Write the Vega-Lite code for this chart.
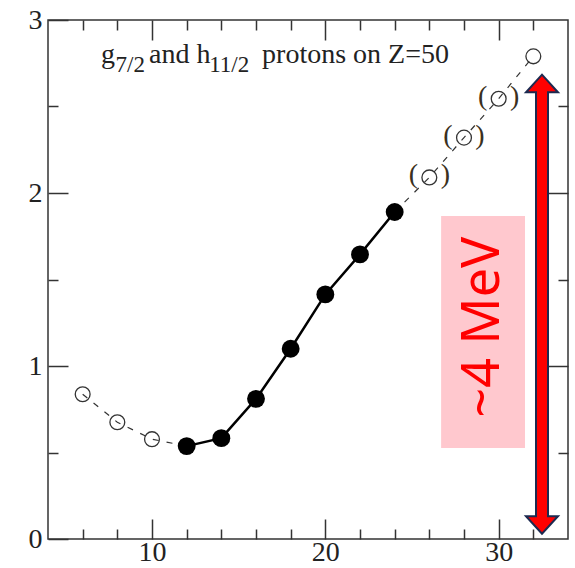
{
  "$schema": "https://vega.github.io/schema/vega-lite/v6.json",
  "width": 520,
  "height": 519,
  "autosize": {"type": "none"},
  "padding": {"left": 48, "top": 20, "right": 7, "bottom": 29},
  "background": "white",
  "config": {
    "view": {"stroke": "#333", "strokeWidth": 1.5},
    "axis": {"grid": false, "domain": false, "tickColor": "#333", "tickWidth": 1.5, "labelFont": "Liberation Serif", "labelFontSize": 28, "labelColor": "#222"}
  },
  "datasets": {
    "points": [
      {"n": 6, "e": 0.837, "kind": "open"},
      {"n": 8, "e": 0.675, "kind": "open"},
      {"n": 10, "e": 0.577, "kind": "open"},
      {"n": 12, "e": 0.537, "kind": "filled"},
      {"n": 14, "e": 0.583, "kind": "filled"},
      {"n": 16, "e": 0.81, "kind": "filled"},
      {"n": 18, "e": 1.1, "kind": "filled"},
      {"n": 20, "e": 1.414, "kind": "filled"},
      {"n": 22, "e": 1.645, "kind": "filled"},
      {"n": 24, "e": 1.89, "kind": "filled"},
      {"n": 26, "e": 2.09, "kind": "paren"},
      {"n": 28, "e": 2.32, "kind": "paren"},
      {"n": 30, "e": 2.545, "kind": "paren"},
      {"n": 32, "e": 2.79, "kind": "open"}
    ],
    "lines": [
      {"n": 6, "e": 0.837, "seg": "left"},
      {"n": 8, "e": 0.675, "seg": "left"},
      {"n": 10, "e": 0.577, "seg": "left"},
      {"n": 12, "e": 0.537, "seg": "left"},
      {"n": 12, "e": 0.537, "seg": "solid"},
      {"n": 14, "e": 0.583, "seg": "solid"},
      {"n": 16, "e": 0.81, "seg": "solid"},
      {"n": 18, "e": 1.1, "seg": "solid"},
      {"n": 20, "e": 1.414, "seg": "solid"},
      {"n": 22, "e": 1.645, "seg": "solid"},
      {"n": 24, "e": 1.89, "seg": "solid"},
      {"n": 24, "e": 1.89, "seg": "right"},
      {"n": 26, "e": 2.09, "seg": "right"},
      {"n": 28, "e": 2.32, "seg": "right"},
      {"n": 30, "e": 2.545, "seg": "right"},
      {"n": 32, "e": 2.79, "seg": "right"}
    ],
    "title": [
      {"n": 7.06, "e": 2.751, "t": "g", "size": "main"},
      {"n": 7.9, "e": 2.699, "t": "7/2", "size": "sub"},
      {"n": 9.83, "e": 2.751, "t": "and h", "size": "main"},
      {"n": 13.3, "e": 2.699, "t": "11/2", "size": "sub"},
      {"n": 16.35, "e": 2.751, "t": "protons on Z=50", "size": "main"}
    ],
    "box": [{"x0": 26.68, "x1": 31.52, "y0": 1.867, "y1": 0.526, "label": "~4 MeV", "lx": 29.1, "ly": 1.225}],
    "arrow": [{"n": 32.5, "lo": 0.12, "hi": 2.59, "rlo": 0.105, "rhi": 2.605}],
    "heads": [
      {"n": 32.5, "e": 0.081, "dir": "down"},
      {"n": 32.5, "e": 2.633, "dir": "up"}
    ]
  },
  "resolve": {"axis": {"x": "independent", "y": "independent"}},
  "layer": [
    {
      "data": {"name": "box"},
      "mark": {"type": "rect", "color": "#ffc8ce"},
      "encoding": {
        "x": {"field": "x0", "type": "quantitative", "scale": {"domain": [4, 34], "nice": false, "zero": false},
          "axis": {"orient": "bottom", "title": null, "values": [6, 8, 10, 12, 14, 16, 18, 20, 22, 24, 26, 28, 30, 32],
            "labelExpr": "datum.value % 10 === 0 ? format(datum.value, 'd') : ''",
            "tickSize": {"condition": {"test": "datum.value % 10 === 0", "value": -20}, "value": -10},
            "labelPadding": 19}},
        "x2": {"field": "x1"},
        "y": {"field": "y0", "type": "quantitative", "scale": {"domain": [0, 3], "nice": false},
          "axis": {"orient": "left", "title": null, "values": [0, 0.5, 1, 1.5, 2, 2.5, 3],
            "labelExpr": "datum.value % 1 === 0 ? format(datum.value, 'd') : ''",
            "tickSize": {"condition": {"test": "datum.value % 1 === 0", "value": -20}, "value": -10},
            "labelPadding": 26}},
        "y2": {"field": "y1"}
      }
    },
    {
      "data": {"name": "lines"},
      "transform": [{"filter": "datum.seg !== 'solid'"}],
      "mark": {"type": "line", "color": "#333", "strokeWidth": 1.2, "strokeDash": [6, 8]},
      "encoding": {
        "x": {"field": "n", "type": "quantitative",
          "axis": {"orient": "top", "title": null, "labels": false, "values": [6, 8, 10, 12, 14, 16, 18, 20, 22, 24, 26, 28, 30, 32],
            "tickSize": {"condition": {"test": "datum.value % 10 === 0", "value": -20}, "value": -10}}},
        "y": {"field": "e", "type": "quantitative",
          "axis": {"orient": "right", "title": null, "labels": false, "values": [0.5, 1, 1.5, 2, 2.5],
            "tickSize": {"condition": {"test": "datum.value % 1 === 0", "value": -20}, "value": -10}}},
        "detail": {"field": "seg"}
      }
    },
    {
      "data": {"name": "lines"},
      "transform": [{"filter": "datum.seg === 'solid'"}],
      "mark": {"type": "line", "color": "#000", "strokeWidth": 2.5},
      "encoding": {
        "x": {"field": "n", "type": "quantitative", "axis": null},
        "y": {"field": "e", "type": "quantitative", "axis": null}
      }
    },
    {
      "data": {"name": "points"},
      "transform": [{"filter": "datum.kind !== 'filled'"}],
      "mark": {"type": "point", "shape": "circle", "filled": false, "stroke": "#333", "strokeWidth": 1.3, "size": 220, "opacity": 1},
      "encoding": {
        "x": {"field": "n", "type": "quantitative", "axis": null},
        "y": {"field": "e", "type": "quantitative", "axis": null}
      }
    },
    {
      "data": {"name": "points"},
      "transform": [{"filter": "datum.kind === 'filled'"}],
      "mark": {"type": "point", "shape": "circle", "filled": true, "color": "#000", "size": 320, "opacity": 1},
      "encoding": {
        "x": {"field": "n", "type": "quantitative", "axis": null},
        "y": {"field": "e", "type": "quantitative", "axis": null}
      }
    },
    {
      "data": {"name": "points"},
      "transform": [{"filter": "datum.kind === 'paren'"}],
      "mark": {"type": "text", "text": "(", "font": "Liberation Serif", "fontSize": 28, "color": "#3a3020", "dx": -16, "dy": -2},
      "encoding": {
        "x": {"field": "n", "type": "quantitative", "axis": null},
        "y": {"field": "e", "type": "quantitative", "axis": null}
      }
    },
    {
      "data": {"name": "points"},
      "transform": [{"filter": "datum.kind === 'paren'"}],
      "mark": {"type": "text", "text": ")", "font": "Liberation Serif", "fontSize": 28, "color": "#3a3020", "dx": 16, "dy": -2},
      "encoding": {
        "x": {"field": "n", "type": "quantitative", "axis": null},
        "y": {"field": "e", "type": "quantitative", "axis": null}
      }
    },
    {
      "data": {"name": "title"},
      "transform": [{"filter": "datum.size === 'main'"}],
      "mark": {"type": "text", "font": "Liberation Serif", "fontSize": 28, "color": "#222", "align": "left", "baseline": "alphabetic"},
      "encoding": {
        "x": {"field": "n", "type": "quantitative", "axis": null},
        "y": {"field": "e", "type": "quantitative", "axis": null},
        "text": {"field": "t"}
      }
    },
    {
      "data": {"name": "title"},
      "transform": [{"filter": "datum.size === 'sub'"}],
      "mark": {"type": "text", "font": "Liberation Serif", "fontSize": 23, "color": "#222", "align": "left", "baseline": "alphabetic"},
      "encoding": {
        "x": {"field": "n", "type": "quantitative", "axis": null},
        "y": {"field": "e", "type": "quantitative", "axis": null},
        "text": {"field": "t"}
      }
    },
    {
      "data": {"name": "box"},
      "mark": {"type": "text", "font": "Noto Sans", "fontSize": 52, "color": "#ff0000", "angle": 270, "align": "center", "baseline": "middle"},
      "encoding": {
        "x": {"field": "lx", "type": "quantitative", "axis": null},
        "y": {"field": "ly", "type": "quantitative", "axis": null},
        "text": {"field": "label"}
      }
    },
    {
      "data": {"name": "arrow"},
      "mark": {"type": "rule", "color": "#1c2a50", "strokeWidth": 14},
      "encoding": {
        "x": {"field": "n", "type": "quantitative", "axis": null},
        "y": {"field": "lo", "type": "quantitative", "axis": null},
        "y2": {"field": "hi"}
      }
    },
    {
      "data": {"name": "heads"},
      "mark": {"type": "point", "filled": true, "fill": "#ff0000", "stroke": "#1c2a50", "strokeWidth": 2, "size": 1024, "opacity": 1, "strokeJoin": "miter"},
      "encoding": {
        "x": {"field": "n", "type": "quantitative", "axis": null},
        "y": {"field": "e", "type": "quantitative", "axis": null},
        "shape": {"field": "dir", "type": "nominal", "scale": {"domain": ["down", "up"], "range": ["M-1,-0.55L1,-0.55L0,0.55Z", "M-1,0.55L1,0.55L0,-0.55Z"]}, "legend": null}
      }
    },
    {
      "data": {"name": "arrow"},
      "mark": {"type": "rule", "color": "#ff0000", "strokeWidth": 10},
      "encoding": {
        "x": {"field": "n", "type": "quantitative", "axis": null},
        "y": {"field": "rlo", "type": "quantitative", "axis": null},
        "y2": {"field": "rhi"}
      }
    }
  ]
}
